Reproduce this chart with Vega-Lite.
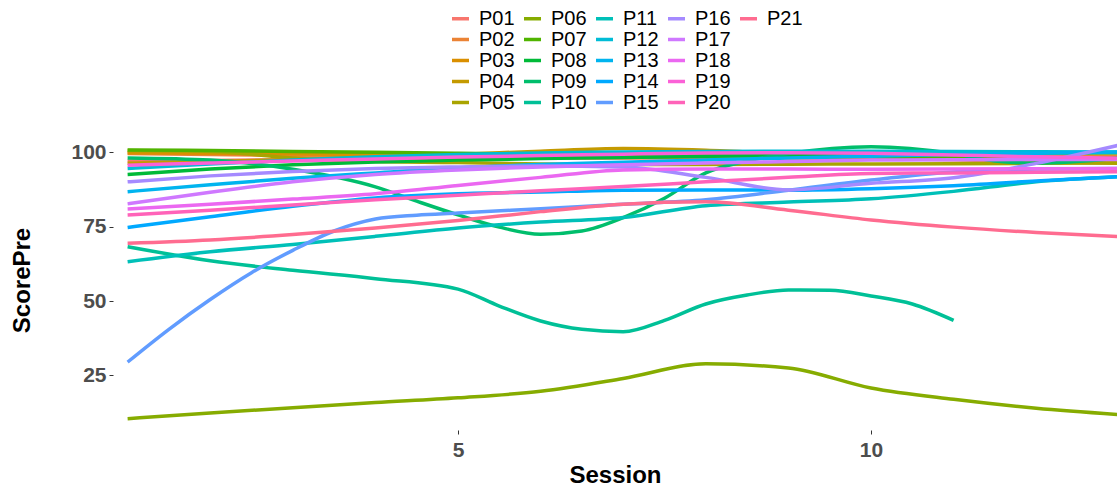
{
  "$schema": "https://vega.github.io/schema/vega-lite/v6.json",
  "width": 1004,
  "height": 300,
  "autosize": {"type": "none"},
  "padding": {"left": 113, "top": 130, "right": 0, "bottom": 58},
  "background": "white",
  "config": {"view": {"stroke": null}, "font": "Liberation Sans"},
  "data": {"values": [
    {"id":"P01","s":1,"v":97.0},{"id":"P01","s":2,"v":97.2},{"id":"P01","s":3,"v":97.4},{"id":"P01","s":4,"v":97.6},{"id":"P01","s":5,"v":97.8},{"id":"P01","s":6,"v":98.0},{"id":"P01","s":7,"v":98.1},{"id":"P01","s":8,"v":98.2},{"id":"P01","s":9,"v":98.3},{"id":"P01","s":10,"v":98.4},{"id":"P01","s":11,"v":98.4},{"id":"P01","s":12,"v":98.5},{"id":"P01","s":13,"v":98.5},
    {"id":"P02","s":1,"v":99.5},{"id":"P02","s":2,"v":99.2},{"id":"P02","s":3,"v":98.9},{"id":"P02","s":4,"v":98.6},{"id":"P02","s":5,"v":98.4},{"id":"P02","s":6,"v":98.2},{"id":"P02","s":7,"v":98.1},{"id":"P02","s":8,"v":98.1},{"id":"P02","s":9,"v":98.2},{"id":"P02","s":10,"v":98.3},{"id":"P02","s":11,"v":98.4},{"id":"P02","s":12,"v":98.5},{"id":"P02","s":13,"v":98.6},
    {"id":"P03","s":1,"v":99.8},{"id":"P03","s":2,"v":99.6},{"id":"P03","s":3,"v":99.4},{"id":"P03","s":4,"v":99.2},{"id":"P03","s":5,"v":99.0},{"id":"P03","s":6,"v":98.8},{"id":"P03","s":7,"v":98.6},{"id":"P03","s":8,"v":98.4},{"id":"P03","s":9,"v":98.1},{"id":"P03","s":10,"v":97.8},{"id":"P03","s":11,"v":97.4},{"id":"P03","s":12,"v":96.8},{"id":"P03","s":13,"v":96.2},
    {"id":"P04","s":1,"v":96.2},{"id":"P04","s":2,"v":96.8},{"id":"P04","s":3,"v":97.5},{"id":"P04","s":4,"v":98.3},{"id":"P04","s":5,"v":99.2},{"id":"P04","s":6,"v":100.3},{"id":"P04","s":7,"v":101.2},{"id":"P04","s":8,"v":100.6},{"id":"P04","s":9,"v":99.4},{"id":"P04","s":10,"v":98.4},{"id":"P04","s":11,"v":97.8},{"id":"P04","s":12,"v":97.4},{"id":"P04","s":13,"v":97.0},
    {"id":"P05","s":1,"v":100.5},{"id":"P05","s":2,"v":100.2},{"id":"P05","s":3,"v":98.0},{"id":"P05","s":4,"v":96.8},{"id":"P05","s":5,"v":96.5},{"id":"P05","s":6,"v":96.0},{"id":"P05","s":7,"v":95.8},{"id":"P05","s":8,"v":95.8},{"id":"P05","s":9,"v":95.9},{"id":"P05","s":10,"v":96.0},{"id":"P05","s":11,"v":96.1},{"id":"P05","s":12,"v":96.2},{"id":"P05","s":13,"v":96.3},
    {"id":"P06","s":1,"v":10.5},{"id":"P06","s":2,"v":12.4},{"id":"P06","s":3,"v":14.2},{"id":"P06","s":4,"v":15.9},{"id":"P06","s":5,"v":17.5},{"id":"P06","s":6,"v":19.7},{"id":"P06","s":7,"v":24.0},{"id":"P06","s":8,"v":28.9},{"id":"P06","s":9,"v":27.5},{"id":"P06","s":10,"v":20.8},{"id":"P06","s":11,"v":17.0},{"id":"P06","s":12,"v":14.0},{"id":"P06","s":13,"v":11.9},
    {"id":"P07","s":1,"v":100.7},{"id":"P07","s":2,"v":100.5},{"id":"P07","s":3,"v":100.2},{"id":"P07","s":4,"v":99.9},{"id":"P07","s":5,"v":99.6},{"id":"P07","s":6,"v":99.3},{"id":"P07","s":7,"v":99.0},{"id":"P07","s":8,"v":98.8},{"id":"P07","s":9,"v":98.6},{"id":"P07","s":10,"v":98.4},{"id":"P07","s":11,"v":98.2},{"id":"P07","s":12,"v":98.0},{"id":"P07","s":13,"v":97.8},
    {"id":"P08","s":1,"v":92.5},{"id":"P08","s":2,"v":94.3},{"id":"P08","s":3,"v":95.7},{"id":"P08","s":4,"v":96.7},{"id":"P08","s":5,"v":97.3},{"id":"P08","s":6,"v":97.8},{"id":"P08","s":7,"v":98.2},{"id":"P08","s":8,"v":98.6},{"id":"P08","s":9,"v":99.0},{"id":"P08","s":10,"v":99.3},{"id":"P08","s":11,"v":99.5},{"id":"P08","s":12,"v":99.7},{"id":"P08","s":13,"v":99.8},
    {"id":"P09","s":1,"v":98.0},{"id":"P09","s":2,"v":97.3},{"id":"P09","s":3,"v":94.2},{"id":"P09","s":4,"v":88.3},{"id":"P09","s":4.5,"v":83.5},{"id":"P09","s":5,"v":78.9},{"id":"P09","s":5.5,"v":74.8},{"id":"P09","s":6,"v":72.4},{"id":"P09","s":6.5,"v":73.5},{"id":"P09","s":7,"v":78.0},{"id":"P09","s":7.5,"v":84.5},{"id":"P09","s":8,"v":93.0},{"id":"P09","s":8.5,"v":97.0},{"id":"P09","s":9,"v":99.5},{"id":"P09","s":10,"v":101.8},{"id":"P09","s":11,"v":99.5},{"id":"P09","s":11.5,"v":97.0},{"id":"P09","s":12,"v":96.3},{"id":"P09","s":13,"v":98.0},
    {"id":"P10","s":1,"v":68.2},{"id":"P10","s":2,"v":63.5},{"id":"P10","s":3,"v":60.3},{"id":"P10","s":4,"v":57.5},{"id":"P10","s":5,"v":54.0},{"id":"P10","s":5.5,"v":48.3},{"id":"P10","s":6,"v":43.3},{"id":"P10","s":6.5,"v":40.5},{"id":"P10","s":7,"v":39.7},{"id":"P10","s":7.5,"v":43.5},{"id":"P10","s":8,"v":49.0},{"id":"P10","s":8.5,"v":52.0},{"id":"P10","s":9,"v":53.7},{"id":"P10","s":9.5,"v":53.6},{"id":"P10","s":10,"v":51.7},{"id":"P10","s":10.5,"v":49.0},{"id":"P10","s":11,"v":43.5},
    {"id":"P11","s":1,"v":63.2},{"id":"P11","s":2,"v":66.5},{"id":"P11","s":3,"v":69.0},{"id":"P11","s":4,"v":71.7},{"id":"P11","s":5,"v":74.5},{"id":"P11","s":6,"v":76.5},{"id":"P11","s":7,"v":78.0},{"id":"P11","s":8,"v":82.0},{"id":"P11","s":9,"v":83.2},{"id":"P11","s":10,"v":84.3},{"id":"P11","s":11,"v":86.8},{"id":"P11","s":12,"v":90.0},{"id":"P11","s":13,"v":91.7},
    {"id":"P12","s":1,"v":94.5},{"id":"P12","s":2,"v":96.0},{"id":"P12","s":3,"v":97.3},{"id":"P12","s":4,"v":98.4},{"id":"P12","s":5,"v":99.2},{"id":"P12","s":6,"v":99.7},{"id":"P12","s":7,"v":100.0},{"id":"P12","s":8,"v":100.2},{"id":"P12","s":9,"v":100.3},{"id":"P12","s":10,"v":100.3},{"id":"P12","s":11,"v":100.2},{"id":"P12","s":12,"v":100.1},{"id":"P12","s":13,"v":100.0},
    {"id":"P13","s":1,"v":86.7},{"id":"P13","s":2,"v":89.0},{"id":"P13","s":3,"v":91.2},{"id":"P13","s":4,"v":93.0},{"id":"P13","s":5,"v":94.7},{"id":"P13","s":6,"v":95.8},{"id":"P13","s":7,"v":96.6},{"id":"P13","s":8,"v":97.3},{"id":"P13","s":9,"v":98.0},{"id":"P13","s":10,"v":98.6},{"id":"P13","s":11,"v":99.2},{"id":"P13","s":12,"v":99.6},{"id":"P13","s":13,"v":100.0},
    {"id":"P14","s":1,"v":74.7},{"id":"P14","s":2,"v":78.3},{"id":"P14","s":3,"v":81.8},{"id":"P14","s":4,"v":84.6},{"id":"P14","s":5,"v":86.0},{"id":"P14","s":6,"v":86.6},{"id":"P14","s":7,"v":87.2},{"id":"P14","s":8,"v":87.3},{"id":"P14","s":9,"v":87.2},{"id":"P14","s":10,"v":87.7},{"id":"P14","s":11,"v":88.7},{"id":"P14","s":12,"v":90.3},{"id":"P14","s":13,"v":91.7},
    {"id":"P15","s":1,"v":29.5},{"id":"P15","s":1.5,"v":40.5},{"id":"P15","s":2,"v":50.5},{"id":"P15","s":2.5,"v":59.5},{"id":"P15","s":3,"v":67.0},{"id":"P15","s":3.5,"v":73.5},{"id":"P15","s":4,"v":77.5},{"id":"P15","s":4.5,"v":78.8},{"id":"P15","s":5,"v":79.5},{"id":"P15","s":6,"v":81.0},{"id":"P15","s":7,"v":82.5},{"id":"P15","s":8,"v":84.0},{"id":"P15","s":9,"v":87.2},{"id":"P15","s":10,"v":90.6},{"id":"P15","s":11,"v":93.3},{"id":"P15","s":12,"v":94.3},{"id":"P15","s":13,"v":94.5},
    {"id":"P16","s":1,"v":90.0},{"id":"P16","s":2,"v":92.0},{"id":"P16","s":3,"v":93.5},{"id":"P16","s":4,"v":94.5},{"id":"P16","s":5,"v":95.0},{"id":"P16","s":6,"v":95.3},{"id":"P16","s":7,"v":95.0},{"id":"P16","s":8,"v":91.5},{"id":"P16","s":9,"v":87.3},{"id":"P16","s":10,"v":89.5},{"id":"P16","s":11,"v":91.4},{"id":"P16","s":12,"v":96.2},{"id":"P16","s":13,"v":102.3},
    {"id":"P17","s":1,"v":82.6},{"id":"P17","s":2,"v":86.5},{"id":"P17","s":3,"v":90.0},{"id":"P17","s":4,"v":92.5},{"id":"P17","s":5,"v":94.0},{"id":"P17","s":6,"v":95.0},{"id":"P17","s":7,"v":95.7},{"id":"P17","s":8,"v":96.3},{"id":"P17","s":9,"v":96.8},{"id":"P17","s":10,"v":97.3},{"id":"P17","s":11,"v":97.4},{"id":"P17","s":12,"v":97.5},{"id":"P17","s":13,"v":97.5},
    {"id":"P18","s":1,"v":80.9},{"id":"P18","s":2,"v":82.5},{"id":"P18","s":3,"v":84.2},{"id":"P18","s":4,"v":86.0},{"id":"P18","s":5,"v":88.8},{"id":"P18","s":6,"v":91.5},{"id":"P18","s":7,"v":94.0},{"id":"P18","s":8,"v":94.3},{"id":"P18","s":9,"v":94.3},{"id":"P18","s":10,"v":94.2},{"id":"P18","s":11,"v":94.3},{"id":"P18","s":12,"v":94.4},{"id":"P18","s":13,"v":94.5},
    {"id":"P19","s":1,"v":95.6},{"id":"P19","s":2,"v":96.3},{"id":"P19","s":3,"v":97.0},{"id":"P19","s":4,"v":97.7},{"id":"P19","s":5,"v":98.3},{"id":"P19","s":6,"v":98.8},{"id":"P19","s":7,"v":99.3},{"id":"P19","s":8,"v":99.7},{"id":"P19","s":9,"v":99.8},{"id":"P19","s":10,"v":99.6},{"id":"P19","s":11,"v":99.0},{"id":"P19","s":12,"v":98.4},{"id":"P19","s":13,"v":97.9},
    {"id":"P20","s":1,"v":78.9},{"id":"P20","s":2,"v":80.5},{"id":"P20","s":3,"v":82.2},{"id":"P20","s":4,"v":84.0},{"id":"P20","s":5,"v":85.5},{"id":"P20","s":6,"v":87.0},{"id":"P20","s":7,"v":88.4},{"id":"P20","s":8,"v":90.0},{"id":"P20","s":9,"v":91.5},{"id":"P20","s":10,"v":92.8},{"id":"P20","s":11,"v":93.0},{"id":"P20","s":12,"v":93.2},{"id":"P20","s":13,"v":93.4},
    {"id":"P21","s":1,"v":69.4},{"id":"P21","s":2,"v":70.5},{"id":"P21","s":3,"v":72.3},{"id":"P21","s":4,"v":74.5},{"id":"P21","s":5,"v":77.0},{"id":"P21","s":6,"v":80.0},{"id":"P21","s":7,"v":82.5},{"id":"P21","s":8,"v":83.3},{"id":"P21","s":9,"v":80.5},{"id":"P21","s":10,"v":77.2},{"id":"P21","s":11,"v":74.8},{"id":"P21","s":12,"v":73.0},{"id":"P21","s":13,"v":71.6}
  ]},
  "mark": {"type": "line", "interpolate": "monotone", "strokeWidth": 3.5, "clip": true},
  "encoding": {
    "x": {
      "field": "s", "type": "quantitative",
      "scale": {"domain": [0.823, 12.978], "nice": false, "zero": false},
      "axis": {
        "values": [5, 10], "title": "Session", "domain": false, "grid": false,
        "tickColor": "#333333", "tickSize": 4, "tickWidth": 1,
        "labelFontSize": 21, "labelFontWeight": "bold", "labelColor": "#4D4D4D", "labelPadding": 5,
        "titleFontSize": 24, "titleFontWeight": "bold", "titleColor": "black", "titlePadding": 3
      }
    },
    "y": {
      "field": "v", "type": "quantitative",
      "scale": {"domain": [6.7, 107.4], "nice": false, "zero": false},
      "axis": {
        "values": [25, 50, 75, 100], "title": "ScorePre", "domain": false, "grid": false,
        "tickColor": "#333333", "tickSize": 4, "tickWidth": 1,
        "labelFontSize": 21, "labelFontWeight": "bold", "labelColor": "#4D4D4D", "labelPadding": 3,
        "titleFontSize": 24, "titleFontWeight": "bold", "titleColor": "black", "titlePadding": 36
      }
    },
    "color": {
      "field": "id", "type": "nominal",
      "scale": {
        "domain": ["P01","P06","P11","P16","P21","P02","P07","P12","P17"," ","P03","P08","P13","P18","  ","P04","P09","P14","P19","   ","P05","P10","P15","P20"],
        "range": ["#F8766D","#86AC00","#00C0B8","#A58AFF","#FF6C90","#EB8335","#50B400","#00BCD6","#CF78FF","rgba(0,0,0,0)","#DA8F00","#00BA38","#00B4EF","#EB68F1","rgba(0,0,0,0)","#C49A00","#00BE6C","#00A9FF","#FB61D7","rgba(0,0,0,0)","#A9A400","#00C097","#619CFF","#FF63B9"]
      },
      "legend": {
        "title": null, "orient": "none", "legendX": 337, "legendY": -122, "columns": 5, "direction": "horizontal",
        "symbolType": "stroke", "symbolSize": 289, "symbolStrokeWidth": 3.5,
        "labelFontSize": 20, "labelColor": "black", "labelOffset": 8, "labelLimit": 0,
        "columnPadding": 2, "rowPadding": 0
      }
    }
  }
}
